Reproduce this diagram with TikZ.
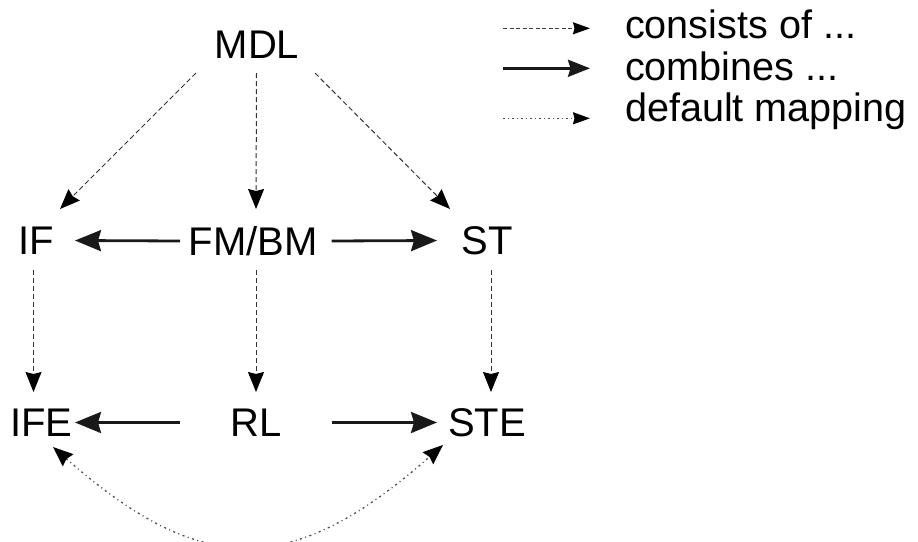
\documentclass[tikz,border=0pt]{standalone}
\usepackage{fontspec}
\setmainfont{Liberation Sans}
\usetikzlibrary{arrows.meta}
\tikzset{
  ThinHead/.tip={Stealth[length=20pt,width=16pt,inset=2pt,fill=black,color=black]},
  SmallHead/.tip={Stealth[length=17pt,width=12pt,inset=1.5pt,fill=black,color=black]},
}
\begin{document}
\begin{tikzpicture}[x=1pt,y=-1pt,
  lbl/.style={inner sep=0pt, outer sep=0pt, font=\fontsize{40}{48}\selectfont},
  legtext/.style={inner sep=0pt, outer sep=0pt, anchor=base west, font=\fontsize{39.6}{46}\selectfont},
  consist/.style={draw=black!80, line width=1pt, dash pattern=on 5pt off 3pt, -{ThinHead}},
  combine/.style={draw=black!90, line width=2.8pt,
    -{Stealth[length=26pt,width=21pt,inset=3pt]}},
  mapping/.style={draw=black!70, line width=1.3pt, dash pattern=on 2pt off 3.5pt on 1pt off 3.5pt,
    {ThinHead}-{ThinHead}},
  legconsist/.style={draw=black!75, line width=1pt, dash pattern=on 4pt off 2.5pt, -{SmallHead}},
  legcombine/.style={draw=black!90, line width=2.8pt,
    -{Stealth[length=22pt,width=17pt,inset=2.5pt]}},
  legmapping/.style={draw=black!70, line width=1.3pt, dash pattern=on 2pt off 3pt on 1pt off 3pt, -{SmallHead}}]
\useasboundingbox (0,0) rectangle (918,541);

% labels
\node[lbl] (MDL) at (257,44.5)  {MDL};
\node[lbl] (IF)  at (36,240.5)  {IF};
\node[lbl] (FM)  at (253,241)   {FM/BM};
\node[lbl] (ST)  at (487,240.5) {ST};
\node[lbl] (IFE) at (41.5,422.5){IFE};
\node[lbl] (RL)  at (256,422.5) {RL};
\node[lbl] (STE) at (487,422.5) {STE};

% consists of ...
\draw[consist] ([shift={(-61,28.5)}]MDL.center) -- ([shift={(24,-31.5)}]IF.center);
\draw[consist] ([shift={(-0.5,28.5)}]MDL.center) -- ([shift={(3,-32)}]FM.center);
\draw[consist] ([shift={(58,28.5)}]MDL.center) -- ([shift={(-37,-31.5)}]ST.center);
\draw[consist] ([shift={(-2.5,29.5)}]IF.center) -- ([shift={(-8,-30.5)}]IFE.center);
\draw[consist] ([shift={(3,29)}]FM.center) -- ([shift={(0,-30.5)}]RL.center);
\draw[consist] ([shift={(4,29.5)}]ST.center) -- ([shift={(4,-30.5)}]STE.center);

% combines ...
\draw[combine] ([shift={(-73,0)}]FM.center) -- ([shift={(39,0)}]IF.center);
\draw[combine] ([shift={(78.7,0)}]FM.center) -- ([shift={(-50,0)}]ST.center);
\draw[combine] ([shift={(-76,0)}]RL.center) -- ([shift={(33.5,0)}]IFE.center);
\draw[combine] ([shift={(75.7,0)}]RL.center) -- ([shift={(-50,0)}]STE.center);

% default mapping
\draw[mapping] ([shift={(11.5,24.5)}]IFE.center) .. controls (203,579) and (293,577) .. ([shift={(-44,22.5)}]STE.center);

% legend
\node[legtext] (L1) at (625,38.5) {consists of ...};
\node[legtext] (L2) at (625,80)   {combines ...};
\node[legtext] (L3) at (625,121)  {default mapping};
\coordinate (s1) at (503,28.3);
\coordinate (s2) at (503,68.3);
\coordinate (s3) at (503,118.3);
\draw[legconsist] (s1) -- ([xshift=-35pt]L1.west |- s1);
\draw[legcombine] (s2) -- ([xshift=-35pt]L2.west |- s2);
\draw[legmapping] (s3) -- ([xshift=-35pt]L3.west |- s3);
\end{tikzpicture}
\end{document}
